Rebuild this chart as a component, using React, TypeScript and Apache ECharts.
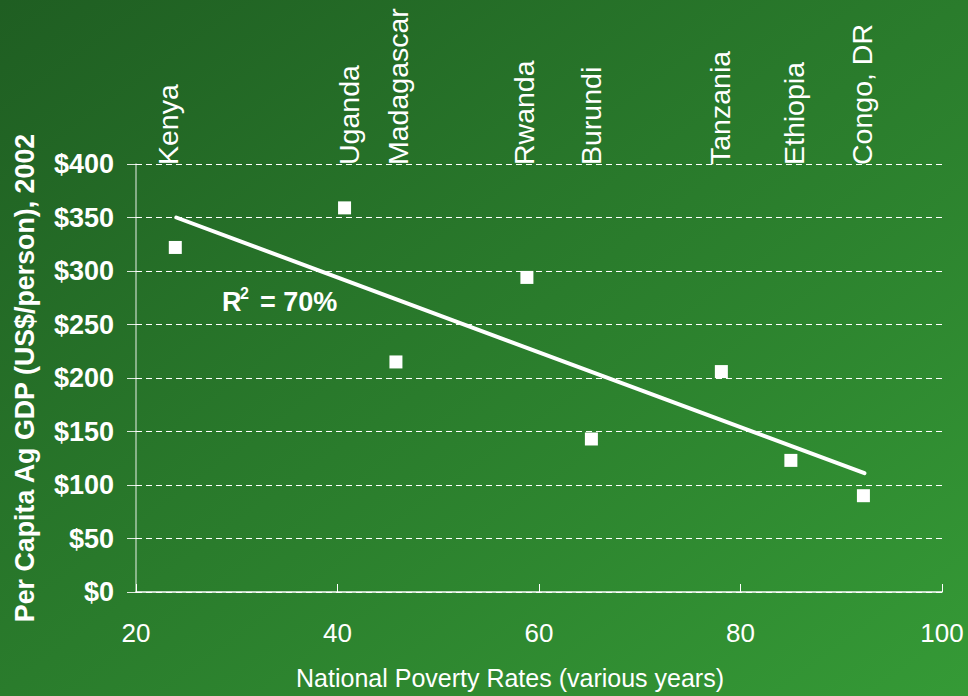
import React, { useEffect, useRef } from "react";
import * as echarts from "echarts";

const countries = ["Kenya", "Uganda", "Madagascar", "Rwanda", "Burundi", "Tanzania", "Ethiopia", "Congo, DR"];
const povertyRates = [23.9, 40.7, 45.8, 58.8, 65.2, 78.1, 85.0, 92.2];
const agGdpPerCapita = [322, 359, 215, 294, 143, 206, 123, 90];
const countryLabelX = [23.2, 41.1, 46.0, 58.5, 65.2, 78.0, 85.3, 92.1];
const trendX = [24, 92.3];
const trendY = [350, 111];
const xName = "National Poverty Rates (various years)";
const yName = "Per Capita Ag GDP (US$/person), 2002";
const rSquaredText = "= 70%";

const FONT = "'Liberation Sans', Arial, sans-serif";

export default function App() {
  const ref = useRef<HTMLDivElement>(null);
  useEffect(() => {
    if (!ref.current) return;
    const chart = echarts.init(ref.current, null, { renderer: "svg" });
    chart.setOption({
      animation: false,
      backgroundColor: new echarts.graphic.LinearGradient(0, 0, 1, 1, [
        { offset: 0, color: "#1f5e22" },
        { offset: 1, color: "#359a36" },
      ]),
      textStyle: { fontFamily: FONT },
      grid: { left: 136, right: 26, top: 164, bottom: 104 },
      xAxis: {
        type: "value",
        min: 20,
        max: 100,
        interval: 20,
        axisLine: { show: true, onZero: false, lineStyle: { color: "#ffffff", width: 1.5 } },
        axisTick: { show: true, inside: true, length: 8, lineStyle: { color: "#ffffff" } },
        axisLabel: { color: "#ffffff", fontSize: 26, fontFamily: FONT, margin: 28 },
        splitLine: { show: false },
      },
      yAxis: {
        type: "value",
        min: 0,
        max: 400,
        interval: 50,
        name: yName,
        nameLocation: "middle",
        nameRotate: 90,
        nameGap: 98,
        nameTextStyle: { color: "#ffffff", fontSize: 26.8, fontWeight: "bold", fontFamily: FONT },
        axisLine: { show: true, lineStyle: { color: "rgba(255,255,255,0.6)", width: 1.5 } },
        axisTick: { show: true, length: 9, lineStyle: { color: "rgba(255,255,255,0.85)" } },
        axisLabel: {
          color: "#ffffff",
          fontSize: 27,
          fontWeight: "bold",
          fontFamily: FONT,
          margin: 22,
          formatter: (v: number) => "$" + v,
        },
        splitLine: { show: true, lineStyle: { color: "#ffffff", width: 1, type: [6, 4] } },
      },
      series: [
        {
          type: "line",
          data: trendX.map((x, i) => [x, trendY[i]]),
          symbol: "none",
          lineStyle: { color: "#ffffff", width: 4, cap: "round" },
          z: 3,
        },
        {
          type: "scatter",
          data: povertyRates.map((x, i) => [x, agGdpPerCapita[i]]),
          symbol: "rect",
          symbolSize: 13,
          itemStyle: { color: "#ffffff", opacity: 1 },
          z: 4,
        },
        {
          type: "scatter",
          data: countryLabelX.map((x, i) => [x, 400, countries[i]]),
          symbolSize: 0,
          silent: true,
          clip: false,
          itemStyle: { opacity: 1 },
          label: {
            show: true,
            position: "top",
            distance: -1,
            rotate: 90,
            align: "left",
            verticalAlign: "middle",
            color: "#ffffff",
            opacity: 1,
            fontSize: 28.5,
            fontFamily: FONT,
            formatter: (p: any) => p.data[2],
          },
          z: 5,
        },
      ],
      graphic: [
        {
          type: "text",
          left: 222,
          top: 288,
          style: { text: "R", fill: "#ffffff", font: "bold 27px " + FONT },
        },
        {
          type: "text",
          left: 240,
          top: 285,
          style: { text: "2", fill: "#ffffff", font: "bold 16px " + FONT },
        },
        {
          type: "text",
          left: 260,
          top: 288,
          style: { text: rSquaredText, fill: "#ffffff", font: "bold 27px " + FONT },
        },
        {
          type: "text",
          x: 510,
          y: 678,
          style: {
            text: xName,
            fill: "#ffffff",
            font: "25px " + FONT,
            align: "center",
            verticalAlign: "middle",
          },
        },
      ],
    });
    return () => chart.dispose();
  }, []);
  return <div ref={ref} style={{ position: "fixed", left: 0, top: 0, width: 968, height: 696 }} />;
}
